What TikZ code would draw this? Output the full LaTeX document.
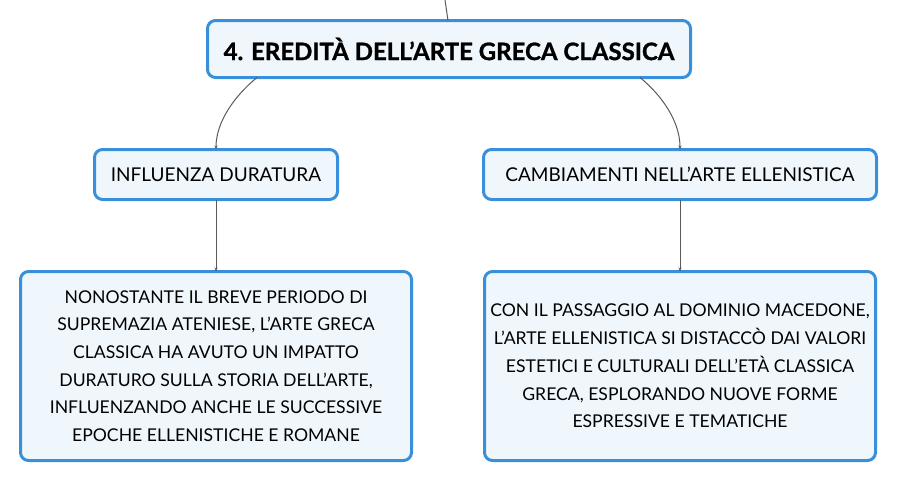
\documentclass[tikz,border=0pt]{standalone}
\usepackage{fontspec}
\setmainfont{Lato}
\usetikzlibrary{arrows.meta}
\definecolor{boxborder}{HTML}{3A8FDA}
\definecolor{boxfill}{HTML}{F0F7FC}
\definecolor{linkgray}{HTML}{5A5A5A}
\tikzset{
  mapbox/.style={draw=boxborder, line width=3pt, fill=boxfill, rounded corners=8pt, inner sep=0pt, align=center, text=black},
  link/.style={draw=linkgray, line width=1pt, -{Stealth[length=4pt,width=3pt]}},
  plainlink/.style={draw=linkgray, line width=1pt},
  bodytext/.style={font=\fontsize{17.6}{27.7}\selectfont}
}
\begin{document}
\begin{tikzpicture}[x=1pt,y=-1pt]
\useasboundingbox (0,0) rectangle (898,483);
\node[mapbox, minimum width=483pt, minimum height=57pt, font=\fontsize{24}{28}\selectfont\bfseries\addfontfeatures{FakeBold=1.2}] (top) at (449,49) {4. EREDITÀ DELL’ARTE GRECA CLASSICA};
\node[mapbox, minimum width=243pt, minimum height=50pt, font=\fontsize{19}{22}\selectfont] (inf) at (216,174.5) {INFLUENZA DURATURA};
\node[mapbox, minimum width=393pt, minimum height=50pt, font=\fontsize{19}{22}\selectfont] (cam) at (680,174.5) {CAMBIAMENTI NELL’ARTE ELLENISTICA};
\node[mapbox, minimum width=391pt, minimum height=189pt, bodytext] (infd) at (216,366) {NONOSTANTE IL BREVE PERIODO DI\\SUPREMAZIA ATENIESE, L’ARTE GRECA\\CLASSICA HA AVUTO UN IMPATTO\\DURATURO SULLA STORIA DELL’ARTE,\\INFLUENZANDO ANCHE LE SUCCESSIVE\\EPOCHE ELLENISTICHE E ROMANE};
\node[mapbox, minimum width=391pt, minimum height=189pt, bodytext] (camd) at (680,366) {CON IL PASSAGGIO AL DOMINIO MACEDONE,\\L’ARTE ELLENISTICA SI DISTACCÒ DAI VALORI\\ESTETICI E CULTURALI DELL’ETÀ CLASSICA\\GRECA, ESPLORANDO NUOVE FORME\\ESPRESSIVE E TEMATICHE};
\coordinate (parent) at (445,0);
\draw[plainlink] (parent) -- ([xshift=-1pt,yshift=-1.5pt]top.north);
\draw[link] ([xshift=-192pt,yshift=1.5pt]top.south) .. controls +(-22,18) and +(0,-28) .. ([yshift=-1.5pt]inf.north);
\draw[link] ([xshift=191pt,yshift=1.5pt]top.south) .. controls +(22,18) and +(0,-28) .. ([yshift=-1.5pt]cam.north);
\draw[link] ([yshift=1.5pt]inf.south) -- ([yshift=-1.5pt]infd.north);
\draw[link] ([yshift=1.5pt]cam.south) -- ([yshift=-1.5pt]camd.north);
\end{tikzpicture}
\end{document}
